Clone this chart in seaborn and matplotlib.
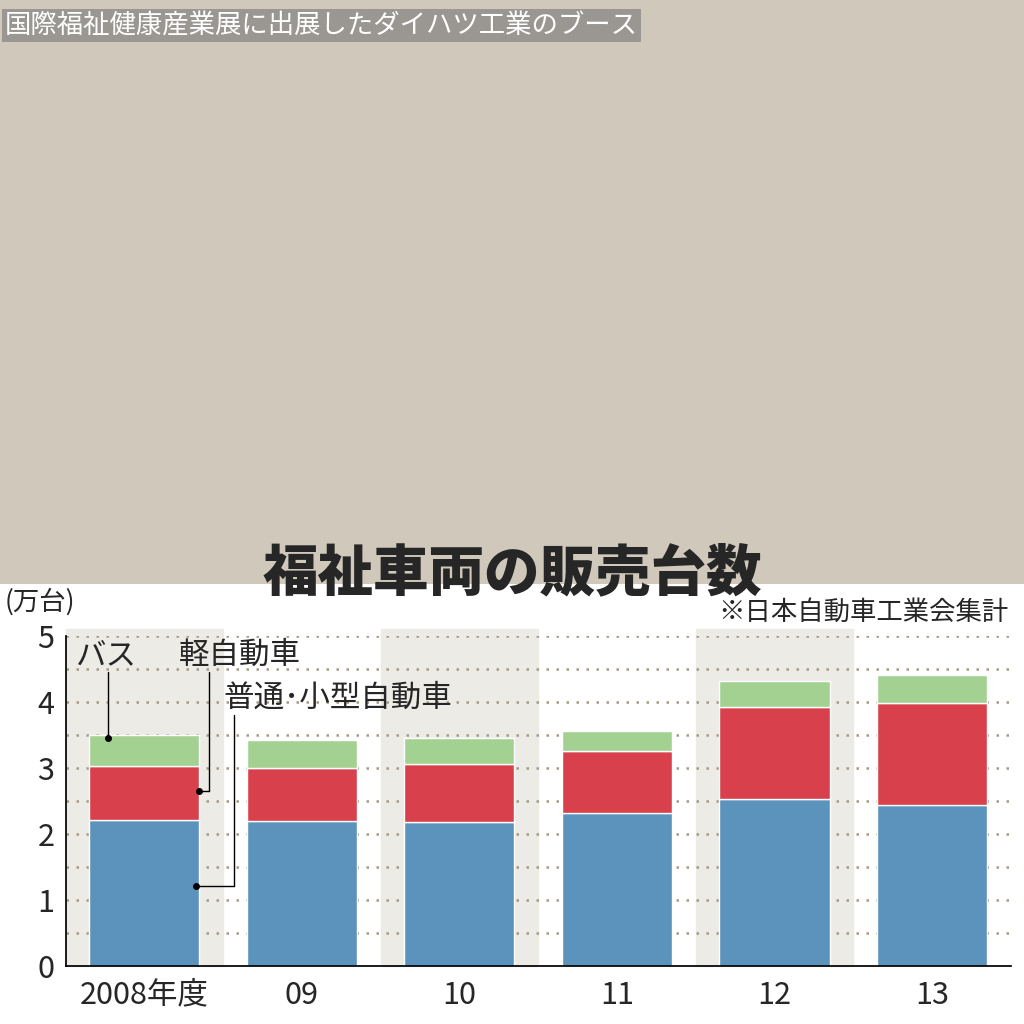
import matplotlib
matplotlib.use("Agg")
import matplotlib.pyplot as plt
import seaborn as sns
import pandas as pd
import numpy as np

sns.set_theme(style="white")
plt.rcParams['font.family'] = ['Noto Sans CJK JP', 'DejaVu Sans']

years = ["2008年度", "09", "10", "11", "12", "13"]
futsu = [2.21, 2.20, 2.18, 2.32, 2.52, 2.44]
kei = [0.82, 0.80, 0.88, 0.94, 1.40, 1.54]
bus = [0.47, 0.42, 0.39, 0.30, 0.40, 0.43]

c_blue, c_red, c_green = "#5b93bd", "#d8404b", "#a3d192"

fig = plt.figure(figsize=(10.24, 10.24), dpi=100)
ph = fig.add_axes([0, 0.43, 1, 0.57])
ph.set_facecolor("#cfc8bb")
ph.set_xticks([]); ph.set_yticks([])
for s in ph.spines.values(): s.set_visible(False)
fig.text(0.005, 0.975, "国際福祉健康産業展に出展したダイハツ工業のブース", fontsize=19,
         color="white", va="center", bbox=dict(fc="#777", ec="none", alpha=0.6, pad=2))
fig.text(0.5, 0.44, "福祉車両の販売台数", fontsize=40, fontweight="heavy", ha="center", va="center")
fig.text(0.985, 0.402, "※日本自動車工業会集計", fontsize=19, ha="right", va="center")
fig.text(0.005, 0.412, "(万台)", fontsize=19, ha="left", va="center")

ax = fig.add_axes([0.064, 0.057, 0.923, 0.322])
df = pd.DataFrame({"year": years, "futsu": futsu, "kei": kei, "bus": bus})
x = np.arange(len(years))
for i in range(0, len(years), 2):
    ax.axvspan(i - 0.5, i + 0.5, color="#ecebe6", zorder=0, ymax=1.02, clip_on=False)
for yv in np.arange(0.5, 5.01, 0.5):
    ax.axhline(yv, color="#a49a86", ls=(0, (1, 3)), lw=1.8, zorder=1)
sns.barplot(data=df, x="year", y="futsu", color=c_blue, width=0.7, ax=ax, zorder=2, saturation=1)
b = np.array(futsu)
ax.bar(x, kei, bottom=b, color=c_red, width=0.7, zorder=2)
b2 = b + np.array(kei)
ax.bar(x, bus, bottom=b2, color=c_green, width=0.7, zorder=2)

ax.set_ylim(0, 5)
ax.set_xlim(-0.5, 5.5)
ax.set_yticks(range(6))
ax.tick_params(axis="y", labelsize=22, length=0, pad=8)
ax.tick_params(axis="x", labelsize=22, length=0, pad=10)
ax.set_xlabel(""); ax.set_ylabel("")
for s in ["top", "right"]: ax.spines[s].set_visible(False)
ax.spines["left"].set_color("black"); ax.spines["bottom"].set_color("black")

ax.text(-0.44, 4.7, "バス", fontsize=22, va="center")
ax.plot([-0.23, -0.23], [4.45, 3.45], color="black", lw=1)
ax.plot([-0.23], [3.45], "o", color="black", ms=4)
ax.text(0.22, 4.7, "軽自動車", fontsize=22, va="center")
ax.plot([0.41, 0.41], [2.65, 4.45], color="black", lw=1)
ax.plot([0.35, 0.41], [2.65, 2.65], color="black", lw=1)
ax.plot([0.35], [2.65], "o", color="black", ms=4)
ax.text(0.5, 4.05, "普通･小型自動車", fontsize=22, va="center")
ax.plot([0.57, 0.57], [1.2, 3.8], color="black", lw=1)
ax.plot([0.33, 0.57], [1.2, 1.2], color="black", lw=1)
ax.plot([0.33], [1.2], "o", color="black", ms=4)

fig.savefig("out.png", dpi=100)
